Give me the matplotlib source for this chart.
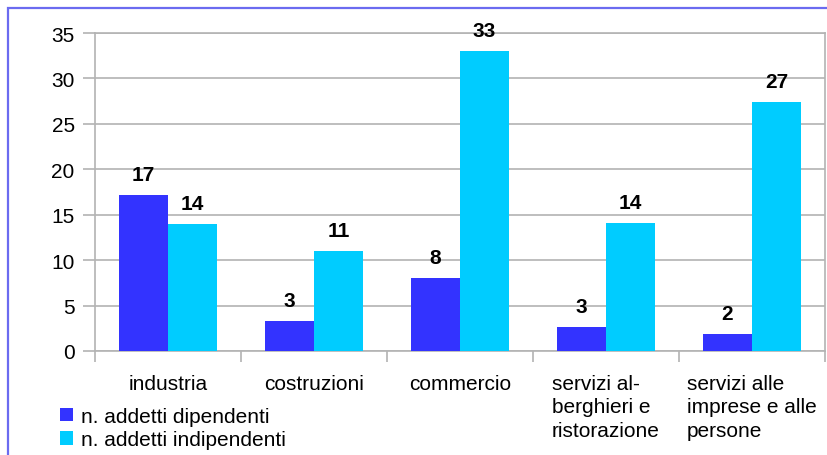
import matplotlib
matplotlib.use("Agg")
import matplotlib.pyplot as plt
from matplotlib.patches import Rectangle, Patch
import numpy as np

plt.rcParams['font.family'] = ['Liberation Sans', 'DejaVu Sans']

categories = ['industria', 'costruzioni', 'commercio',
              'servizi al-\nberghieri e\nristorazione',
              'servizi alle\nimprese e alle\npersone']
dipendenti = [17.2, 3.3, 8.0, 2.6, 1.9]
indipendenti = [14.0, 11.0, 33.0, 14.1, 27.4]
series_names = ['n. addetti dipendenti', 'n. addetti indipendenti']
yticks = [0, 5, 10, 15, 20, 25, 30, 35]

W, H = 827, 456
fig = plt.figure(figsize=(W / 100, H / 100), dpi=100)
ax = fig.add_axes([95 / W, 1 - 352 / H, 730 / W, 318 / H])

grid_col = '#b3b3b3'
c_dip = '#3333ff'
c_ind = '#00ccff'
fs = 15
bw = 0.336
x = np.arange(len(categories))

b1 = ax.bar(x - bw / 2, dipendenti, bw, color=c_dip, zorder=3)
b2 = ax.bar(x + bw / 2, indipendenti, bw, color=c_ind, zorder=3)

for bars in (b1, b2):
    for r in bars:
        ax.annotate('%.0f' % r.get_height(),
                    (r.get_x() + r.get_width() / 2, r.get_height()),
                    xytext=(0, 8), textcoords='offset points',
                    ha='center', va='bottom', fontsize=fs, fontweight='bold')

ax.set_xlim(-0.5, len(categories) - 0.5)
ax.set_ylim(0, 35)
ax.set_yticks(yticks)
ax.yaxis.grid(True, color=grid_col, linewidth=1.2, zorder=0)
ax.tick_params(axis='y', length=8.6, width=1.2, color=grid_col, pad=6, labelsize=fs)

ax.set_xticks(x)
ax.set_xticklabels(categories, fontsize=fs, linespacing=1.3)
for t in ax.get_xticklabels():
    t.set_multialignment('left')
ax.set_xticks(np.arange(-0.5, len(categories)), minor=True)
ax.tick_params(axis='x', which='major', length=0, pad=16.5)
ax.tick_params(axis='x', which='minor', length=8, width=1.2, color=grid_col)

for s in ax.spines.values():
    s.set_color(grid_col)
    s.set_linewidth(1.2)

handles = [Patch(facecolor=c_dip), Patch(facecolor=c_ind)]
fig.legend(handles, series_names, loc='upper left',
           bbox_to_anchor=(60 / W, 1 - 408 / H), frameon=False,
           fontsize=fs, handlelength=0.62, handleheight=0.62,
           handletextpad=0.4, labelspacing=0.2, borderpad=0, borderaxespad=0)

fig.patches.append(Rectangle((8 / W, -0.2), 1.5, 1.2 - 9 / H,
                             transform=fig.transFigure, fill=False,
                             edgecolor='#6b6bf0', linewidth=1.6))

fig.savefig('out.png', dpi=100)
